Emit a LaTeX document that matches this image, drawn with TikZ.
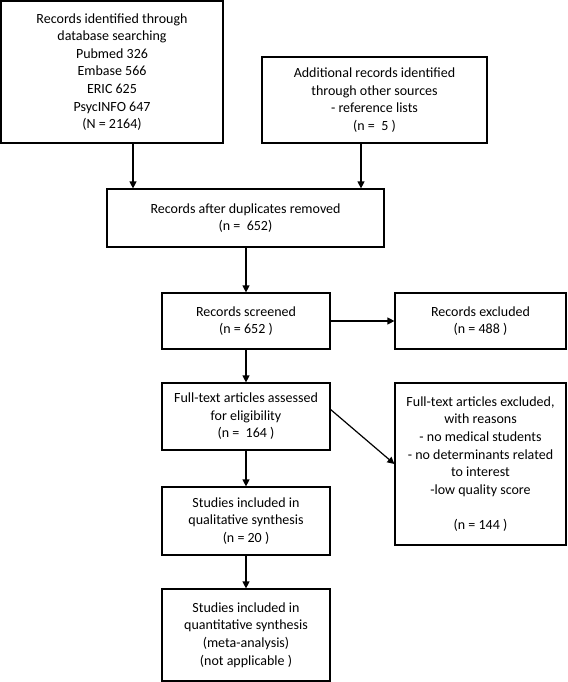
\documentclass[tikz,border=0pt]{standalone}
\usepackage{fontspec}
\setmainfont{Carlito}
\usepackage{tikz}
\usetikzlibrary{arrows.meta,positioning}
\tikzset{
  box/.style={draw=black, line width=1.2pt, inner sep=0pt, align=center,
    font=\fontsize{14pt}{17.6pt}\selectfont},
  arr/.style={-{Triangle[length=7pt,width=7pt]}, line width=1.2pt}
}

\begin{document}
\begin{tikzpicture}[x=1pt,y=-1pt]
  \useasboundingbox (0,0) rectangle (567,682);
  % identification
  \node[box, minimum width=222pt, minimum height=142pt] (dbsearch) at (112,72)
    {Records identified through\\ database searching\\ Pubmed 326\\ Embase 566\\ ERIC 625\\ PsycINFO 647\\ (N = 2164)};
  \node[box, minimum width=225pt, minimum height=86pt] (othersrc) at (374.5,100)
    {Additional records identified\\ through other sources\\ - reference lists\\ (n =\ \ 5 )};
  % screening
  \node[box, minimum width=277pt, minimum height=58pt] (dupes) at (245.5,218)
    {Records after duplicates removed\\ (n =\ \ 652)};
  \node[box, minimum width=168pt, minimum height=56pt] (screened) at (246,321)
    {Records screened\\ (n = 652 )};
  \node[box, minimum width=171pt, minimum height=56pt] (excluded) at (480.5,321)
    {Records excluded\\ (n = 488 )};
  % eligibility
  \node[box, minimum width=168pt, minimum height=67pt] (fulltext) at (246,416.5)
    {Full-text articles assessed\\ for eligibility\\ (n =\ \ 164 )};
  \node[box, minimum width=171pt, minimum height=162pt] (ftexcl) at (480.5,464)
    {Full-text articles excluded,\\ with reasons\\ - no medical students\\ - no determinants related\\ to interest\\ -low quality score\\ ~\\ (n = 144 )};
  % included
  \node[box, minimum width=168pt, minimum height=68pt] (qualit) at (246,521)
    {Studies included in\\ qualitative synthesis\\ (n = 20 )};
  \node[box, minimum width=168pt, minimum height=92pt] (quantit) at (246,635)
    {Studies included in\\ quantitative synthesis\\ (meta-analysis)\\ (not applicable )};

  \draw[arr] ([xshift=21pt]dbsearch.south) -- ([xshift=21pt]dbsearch.south |- dupes.north);
  \draw[arr] ([xshift=-13.5pt]othersrc.south) -- ([xshift=-13.5pt]othersrc.south |- dupes.north);
  \draw[arr] (dupes.south -| screened.north) -- (screened.north);
  \draw[arr] (screened.east) -- (excluded.west);
  \draw[arr] (screened.south) -- (fulltext.north);
  \draw[arr] ([yshift=7pt]fulltext.east) -- (ftexcl.west);
  \draw[arr] (fulltext.south) -- (qualit.north);
  \draw[arr] (qualit.south) -- (quantit.north);
\end{tikzpicture}
\end{document}
